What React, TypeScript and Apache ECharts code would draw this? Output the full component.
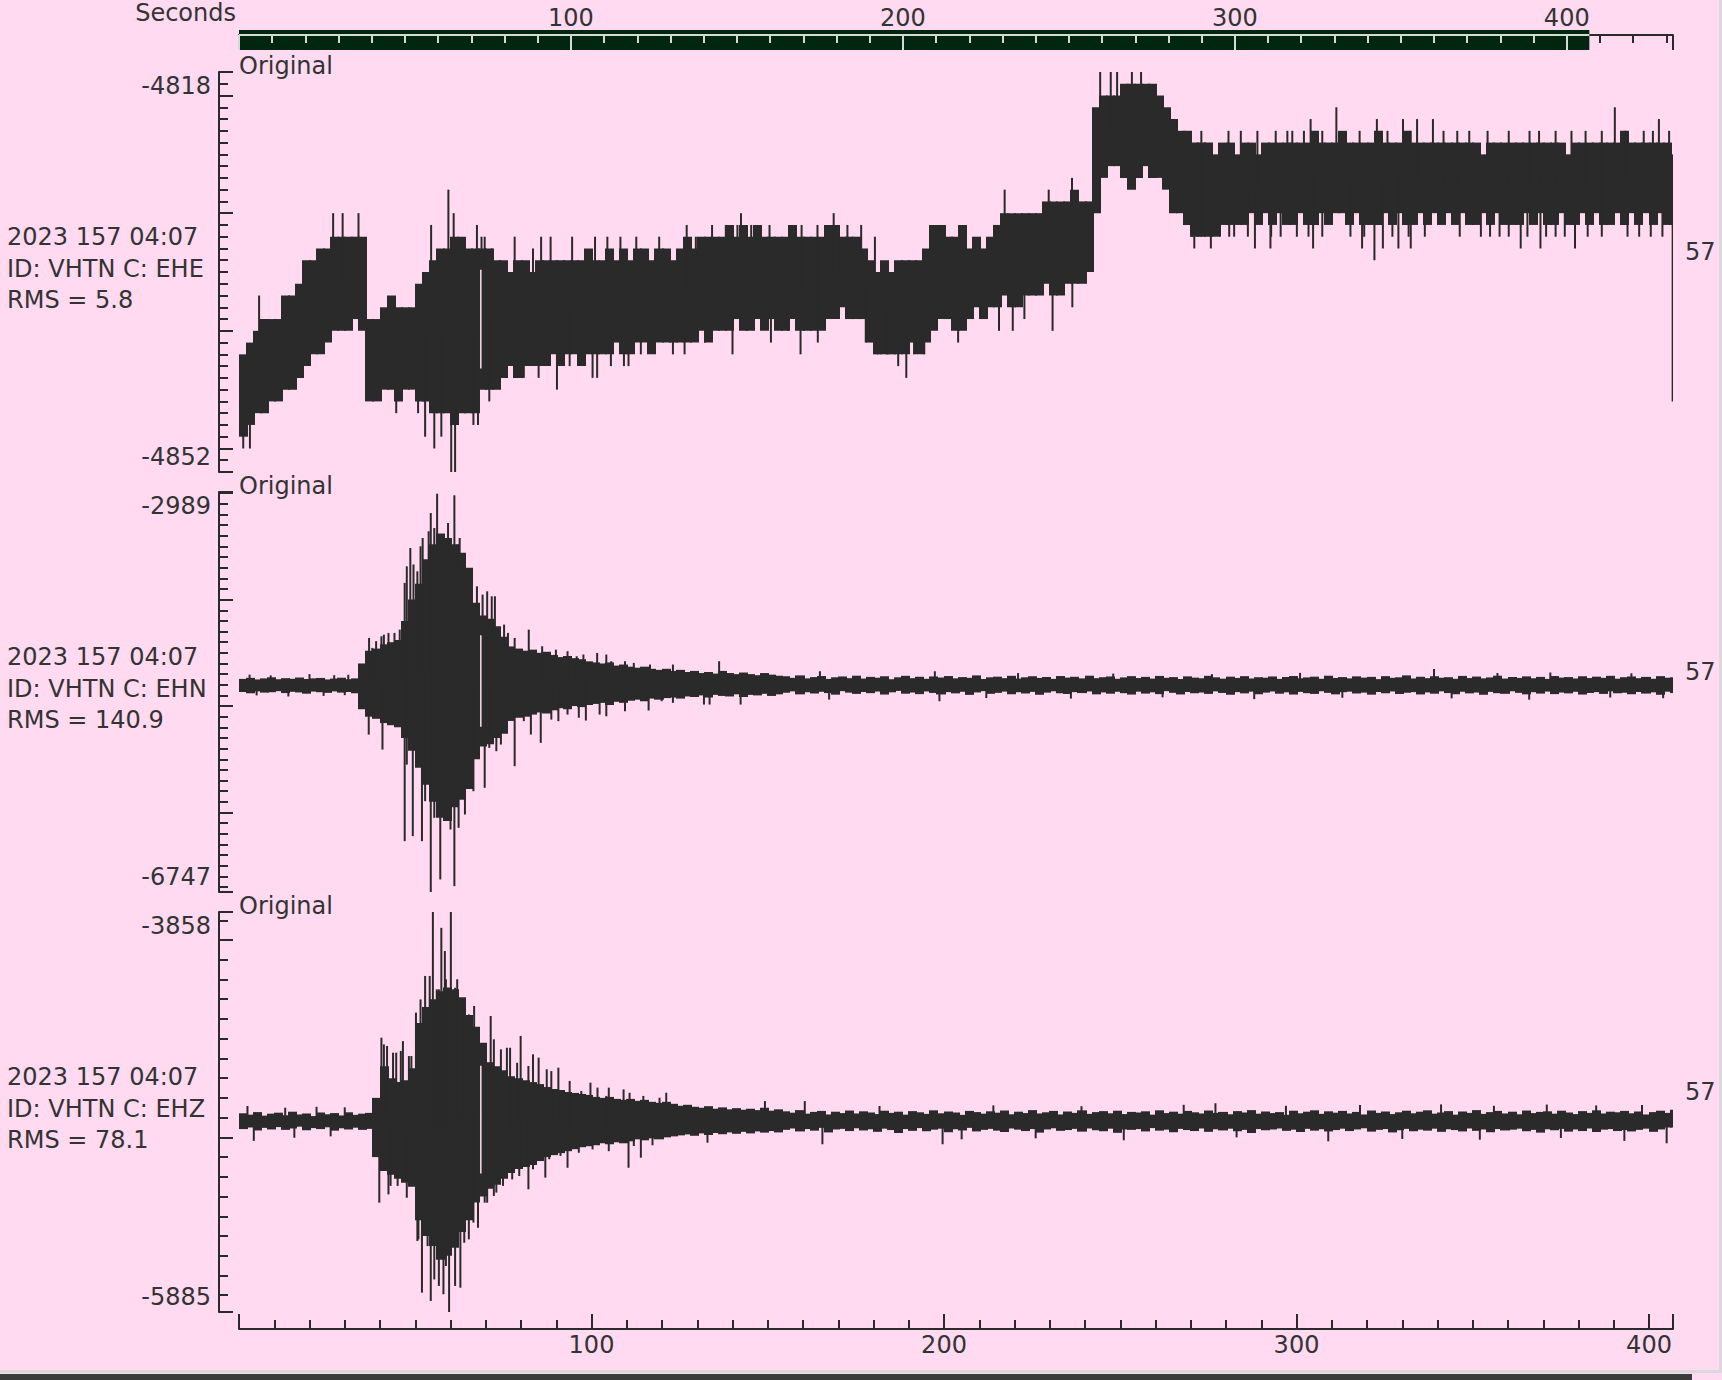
import React, { useEffect, useRef } from "react";
import * as echarts from "echarts";

// ---------------- style constants ----------------
const FONT = "DejaVu Sans";
const INK = "#2a2a2a";
const TEXT = "#333333";
const BG = "#FFDAF0";
const BAR = "#01260F";
const LIGHT = "#d4dbd4";

// ---------------- data ----------------
const BIN_SECONDS = 2; // each envelope value covers a 2 s window
const TRACE_END = 406.8; // seconds of data shown
const OVERVIEW_END = 432; // extent of the "Seconds" overview scale

const xTickLabels = [100, 200, 300, 400];
const startTime = "2023 157 04:07";
const startSecond = "57";
const stationId = "VHTN";
const channels = ["EHE", "EHN", "EHZ"];
const rmsValues = ["5.8", "140.9", "78.1"];
const yMins = [-4852, -6747, -5885];
const yMaxs = [-4818, -2989, -3858];
const yMajorSteps = [10, 1000, 1000];
const dataGaps = [68.6]; // short dropout visible in all three traces

// EHE envelope (max / min per 2 s window)
const eheHi = [
  -4842, -4841, -4840, -4839, -4839, -4839, -4837, -4837, -4836, -4834,
  -4834, -4833, -4833, -4832, -4832, -4832, -4832, -4832, -4839, -4839,
  -4838, -4837, -4838, -4838, -4838, -4836, -4835, -4834, -4833, -4833,
  -4832, -4832, -4833, -4833, -4833, -4833, -4834, -4834, -4835, -4834,
  -4834, -4835, -4834, -4834, -4834, -4834, -4834, -4834, -4834, -4833,
  -4834, -4834, -4833, -4834, -4833, -4834, -4833, -4833, -4834, -4833,
  -4833, -4834, -4833, -4832, -4833, -4832, -4832, -4832, -4832, -4831,
  -4832, -4831, -4832, -4831, -4832, -4832, -4832, -4832, -4831, -4832,
  -4832, -4832, -4832, -4831, -4831, -4832, -4832, -4832, -4833, -4834,
  -4835, -4834, -4835, -4834, -4834, -4834, -4834, -4833, -4831, -4831,
  -4832, -4832, -4831, -4833, -4832, -4833, -4832, -4831, -4830, -4830,
  -4830, -4830, -4830, -4830, -4829, -4829, -4829, -4829, -4828, -4829,
  -4829, -4821, -4820, -4820, -4820, -4819, -4819, -4819, -4819, -4819,
  -4820, -4821, -4822, -4823, -4823, -4824, -4824, -4824, -4825, -4824,
  -4824, -4825, -4824, -4824, -4825, -4824, -4824, -4824, -4824, -4824,
  -4824, -4824, -4823, -4824, -4824, -4824, -4823, -4824, -4824, -4824,
  -4824, -4823, -4824, -4824, -4824, -4823, -4824, -4824, -4824, -4824,
  -4824, -4824, -4824, -4824, -4824, -4824, -4825, -4824, -4824, -4824,
  -4824, -4824, -4824, -4824, -4824, -4824, -4824, -4824, -4825, -4824,
  -4824, -4824, -4824, -4824, -4824, -4824, -4823, -4824, -4824, -4824,
  -4824, -4824, -4824, -4825,
];
const eheLo = [
  -4849, -4848, -4847, -4847, -4846, -4846, -4845, -4845, -4844, -4843,
  -4842, -4842, -4841, -4840, -4840, -4840, -4839, -4840, -4846, -4846,
  -4845, -4845, -4846, -4845, -4845, -4846, -4846, -4847, -4847, -4847,
  -4848, -4847, -4847, -4847, -4845, -4845, -4845, -4844, -4843, -4844,
  -4843, -4843, -4843, -4843, -4842, -4843, -4842, -4842, -4843, -4842,
  -4842, -4842, -4842, -4841, -4842, -4842, -4841, -4841, -4842, -4841,
  -4841, -4841, -4841, -4841, -4841, -4840, -4841, -4840, -4840, -4840,
  -4839, -4840, -4840, -4839, -4840, -4839, -4840, -4840, -4839, -4840,
  -4840, -4840, -4840, -4839, -4839, -4838, -4839, -4839, -4839, -4841,
  -4842, -4842, -4842, -4842, -4842, -4841, -4842, -4841, -4840, -4839,
  -4839, -4840, -4840, -4839, -4838, -4839, -4838, -4838, -4837, -4838,
  -4838, -4837, -4837, -4837, -4836, -4837, -4837, -4836, -4836, -4836,
  -4835, -4830, -4827, -4826, -4826, -4827, -4828, -4827, -4826, -4827,
  -4827, -4828, -4830, -4830, -4831, -4832, -4832, -4832, -4832, -4831,
  -4831, -4831, -4831, -4830, -4831, -4830, -4831, -4830, -4831, -4831,
  -4830, -4831, -4831, -4830, -4831, -4830, -4830, -4831, -4830, -4831,
  -4831, -4831, -4830, -4831, -4830, -4831, -4831, -4830, -4831, -4830,
  -4831, -4830, -4831, -4830, -4831, -4831, -4830, -4831, -4830, -4831,
  -4831, -4831, -4830, -4831, -4830, -4831, -4831, -4830, -4831, -4831,
  -4830, -4831, -4830, -4831, -4831, -4830, -4831, -4830, -4831, -4830,
  -4831, -4830, -4831, -4831,
];
// EHE isolated peaks: [seconds, counts]
const eheSpikes = [
  [5.7, -4837], [26.7, -4830], [29.4, -4830], [33.9, -4830], [54.5, -4831], [59.4, -4828],
  [60.9, -4830], [67.5, -4831], [68.8, -4832], [69.7, -4832], [71.7, -4833], [78.2, -4832],
  [83.4, -4833], [85.7, -4832], [88.4, -4832], [94.5, -4832], [101, -4832], [104.5, -4832],
  [108.2, -4832], [112.7, -4832], [119.2, -4832], [127, -4831], [129.6, -4832], [134.2, -4831],
  [138.1, -4831], [141.4, -4831], [142.4, -4830], [145.3, -4831], [150.5, -4831], [159.6, -4831],
  [164.1, -4831], [168.7, -4830], [170, -4831], [172.6, -4831], [176.5, -4831], [180.4, -4832],
  [199, -4831], [217.2, -4828], [229.7, -4828], [236.3, -4827], [244.3, -4818], [247.3, -4818],
  [249.1, -4818], [253.3, -4818], [255.9, -4818], [266, -4822], [273, -4823], [280.7, -4823],
  [284.2, -4823], [288.9, -4823], [294.1, -4823], [297.4, -4823], [298.8, -4823], [302.1, -4823],
  [304, -4822], [307.3, -4823], [311.3, -4821], [317.9, -4823], [322.8, -4822], [325.8, -4823],
  [330.2, -4822], [332.4, -4823], [334.2, -4822], [338.7, -4822], [341.7, -4823], [345.6, -4823],
  [349, -4823], [354.2, -4823], [360.2, -4823], [366.1, -4823], [368.8, -4823], [373.5, -4823],
  [378, -4823], [382, -4823], [386.6, -4823], [390.3, -4821], [393.2, -4823], [398.5, -4823],
  [401.1, -4823], [402.8, -4822], [405.7, -4823],
  [1.2, -4850], [3.1, -4850], [44.6, -4847], [50.8, -4847], [52.8, -4849], [55.4, -4850],
  [57.4, -4849], [60.2, -4852], [61.3, -4852], [66.5, -4848], [67.8, -4848], [71, -4846],
  [80.8, -4844], [85, -4844], [90.2, -4845], [93.8, -4843], [96.4, -4842], [100.3, -4844],
  [101.6, -4844], [105.5, -4843], [109.2, -4843], [110.5, -4843], [114, -4842], [123.1, -4842],
  [126.4, -4842], [132.2, -4841], [140, -4842], [144, -4840], [150.9, -4841], [155.7, -4840],
  [159.3, -4842], [164.2, -4841], [177.8, -4841], [181.1, -4842], [183.7, -4842], [187, -4843],
  [189.3, -4844], [191.5, -4842], [194.4, -4842],
  [204, -4841], [215.6, -4840], [219.5, -4840], [222.8, -4839], [230.8, -4840], [236.4, -4838],
  [270.4, -4832], [271, -4833], [273, -4832], [275.7, -4833], [278.3, -4832], [280.9, -4832],
  [282.3, -4832], [286.2, -4832], [288.2, -4833], [292.6, -4833], [292.8, -4832], [295.5, -4832],
  [300.1, -4832], [303.4, -4832], [304.7, -4833], [307.3, -4832], [315.3, -4832], [318.6, -4833],
  [319.2, -4832], [322.1, -4834], [324.5, -4833], [327.2, -4832], [328.9, -4833], [331.8, -4832],
  [332.4, -4833], [336.4, -4832], [346.3, -4832], [352.3, -4832], [354.9, -4832], [357.6, -4832],
  [360.2, -4832], [363.6, -4833], [365.5, -4832], [369.2, -4833], [370.8, -4832], [373.5, -4832],
  [376.1, -4832], [379, -4833], [382.6, -4832], [386.6, -4832], [393.9, -4832], [397.2, -4832],
  [400.5, -4832], [403.8, -4832], [406.7, -4846],
];

// EHN envelope
const ehnHi = [
  -4745, -4735, -4750, -4740, -4730, -4748, -4738, -4744, -4732, -4746,
  -4740, -4736, -4750, -4742, -4734, -4748, -4740, -4600, -4480, -4460,
  -4420, -4400, -4380, -4200, -4000, -3850, -3620, -3480, -3380, -3420,
  -3480, -3560, -3700, -4030, -4150, -4180, -4250, -4350, -4440, -4460,
  -4480, -4470, -4500, -4490, -4520, -4540, -4530, -4550, -4560, -4580,
  -4590, -4600, -4590, -4620, -4610, -4630, -4640, -4630, -4650, -4660,
  -4650, -4670, -4660, -4680, -4670, -4690, -4680, -4695, -4670, -4690,
  -4700, -4685, -4700, -4710, -4690, -4705, -4715, -4720, -4735, -4712,
  -4740, -4728, -4718, -4745, -4730, -4722, -4738, -4715, -4742, -4726,
  -4734, -4720, -4748, -4730, -4716, -4738, -4725, -4744, -4722, -4732,
  -4718, -4740, -4728, -4735, -4712, -4746, -4730, -4724, -4738, -4716,
  -4742, -4730, -4720, -4736, -4727, -4745, -4718, -4733, -4725, -4740,
  -4715, -4738, -4729, -4722, -4744, -4731, -4719, -4737, -4726, -4742,
  -4717, -4735, -4728, -4746, -4721, -4733, -4739, -4716, -4730, -4743,
  -4724, -4736, -4719, -4741, -4729, -4734, -4722, -4745, -4727, -4718,
  -4739, -4731, -4724, -4744, -4715, -4736, -4728, -4740, -4721, -4733,
  -4726, -4747, -4719, -4735, -4730, -4712, -4741, -4725, -4738, -4720,
  -4734, -4729, -4744, -4717, -4737, -4723, -4740, -4731, -4715, -4742,
  -4727, -4736, -4721, -4739, -4726, -4745, -4718, -4733, -4728, -4741,
  -4720, -4737, -4724, -4735, -4716, -4743, -4729, -4722, -4738, -4726,
  -4744, -4719, -4734, -4730,
];
const ehnLo = [
  -4868, -4880, -4862, -4874, -4870, -4860, -4878, -4866, -4872, -4884,
  -4864, -4870, -4876, -4862, -4874, -4868, -4880, -5030, -5100, -5120,
  -5160, -5180, -5200, -5300, -5420, -5580, -5740, -5900, -6050, -6080,
  -5950, -5880, -5780, -5500, -5380, -5360, -5300, -5260, -5140, -5110,
  -5100, -5080, -5060, -5070, -5040, -5020, -5030, -5000, -5010, -4990,
  -4980, -4970, -4990, -4960, -4970, -4950, -4940, -4955, -4930, -4940,
  -4925, -4920, -4930, -4910, -4915, -4900, -4920, -4895, -4905, -4910,
  -4890, -4915, -4895, -4900, -4885, -4905, -4890, -4875, -4862, -4890,
  -4870, -4882, -4866, -4878, -4893, -4860, -4874, -4886, -4868, -4879,
  -4864, -4892, -4871, -4858, -4884, -4873, -4888, -4863, -4877, -4891,
  -4869, -4881, -4866, -4895, -4872, -4860, -4885, -4876, -4864, -4889,
  -4870, -4882, -4867, -4894, -4874, -4861, -4880, -4887, -4869, -4878,
  -4863, -4890, -4872, -4884, -4866, -4879, -4892, -4865, -4883, -4871,
  -4888, -4860, -4876, -4891, -4868, -4880, -4873, -4886, -4862, -4877,
  -4894, -4869, -4881, -4865, -4889, -4874, -4863, -4884, -4871, -4892,
  -4867, -4879, -4886, -4861, -4876, -4890, -4870, -4865, -4882, -4874,
  -4893, -4868, -4880, -4863, -4887, -4875, -4869, -4891, -4872, -4884,
  -4862, -4878, -4889, -4866, -4881, -4873, -4894, -4867, -4879, -4885,
  -4861, -4876, -4890, -4870, -4883, -4864, -4888, -4873, -4881, -4866,
  -4892, -4877, -4869, -4886, -4862, -4880, -4875, -4889, -4868, -4883,
  -4871, -4894, -4865, -4878,
];
const ehnSpikes = [
  [3, -4705], [9, -4712], [20, -4700], [27, -4710], [31, -4706], [36.9, -4360], [37.8, -4454],
  [38.9, -4390], [40.4, -4344], [41.1, -4329], [42.4, -4313], [44.1, -4313], [45.6, -4282],
  [47, -3843], [47.6, -3687], [48.6, -3515], [49.5, -3670], [50.6, -3734], [51.5, -3499],
  [52.1, -3421], [53.8, -3358], [54.4, -3186], [55.4, -3327], [56.2, -3005], [57.4, -3437],
  [58, -3515], [59.3, -3280], [61.1, -3020], [61.9, -3484], [62.6, -3421], [64.1, -3718],
  [65.2, -3718], [67.5, -3875], [69.1, -3953], [70.4, -3922], [71.7, -3969], [72.6, -3969],
  [75.2, -4235], [76.3, -4313], [78.2, -4360], [82.2, -4282], [86, -4438], [89.9, -4470],
  [93.2, -4485], [95.8, -4532], [97.7, -4516], [101.6, -4501], [104.2, -4516], [105.6, -4579],
  [109.5, -4579], [112, -4595], [116.6, -4610], [123.1, -4610], [136.2, -4579], [164.8, -4673],
  [197.4, -4673], [221, -4690], [248, -4695], [276, -4700], [301, -4688], [339, -4652],
  [357, -4690], [372, -4685], [395, -4692],
  [5, -4900], [14, -4910], [24, -4905], [30, -4898], [36.8, -5268], [40.7, -5409], [47, -6269],
  [47.6, -5550], [49.3, -6222], [51.9, -6269], [52.8, -5894], [54.4, -6747], [55.4, -6050],
  [57.1, -6629], [58.7, -6050], [60, -6160], [61.1, -6692], [62.3, -6144], [63.2, -5830],
  [64.1, -6019], [65.2, -5580], [66.5, -5800], [69.7, -5768], [71, -5393], [73, -5424],
  [74.3, -5362], [75.6, -5205], [78.2, -5565], [80.8, -5142], [82.8, -5268], [85.6, -5346],
  [88.6, -5127], [90.6, -5142], [93.2, -5080], [96.4, -5110], [98.4, -5136], [102.3, -5080],
  [104.2, -5096], [109.5, -5049], [116.2, -5042], [119.9, -4955], [123.1, -4970], [131.9, -4986],
  [133.5, -4986], [142.3, -4986], [167.4, -4939], [198.7, -4955], [212, -4925], [236, -4930],
  [262, -4918], [288, -4935], [313, -4922], [344, -4928], [366, -4940], [389, -4920], [404, -4926],
];

// EHZ envelope
const ehzHi = [
  -4878, -4885, -4872, -4890, -4880, -4875, -4888, -4870, -4884, -4879,
  -4892, -4874, -4883, -4877, -4889, -4873, -4886, -4880, -4876, -4800,
  -4640, -4700, -4720, -4710, -4650, -4420, -4340, -4300, -4260, -4240,
  -4250, -4290, -4380, -4440, -4520, -4620, -4640, -4660, -4690, -4700,
  -4710, -4720, -4730, -4745, -4755, -4760, -4770, -4775, -4780, -4785,
  -4795, -4800, -4795, -4805, -4810, -4805, -4815, -4810, -4820, -4825,
  -4820, -4830, -4840, -4835, -4845, -4850, -4842, -4855, -4848, -4858,
  -4852, -4860, -4855, -4862, -4850, -4865, -4858, -4868, -4875, -4862,
  -4880, -4871, -4866, -4884, -4870, -4877, -4864, -4879, -4868, -4874,
  -4882, -4865, -4876, -4870, -4885, -4867, -4873, -4881, -4863, -4878,
  -4869, -4874, -4886, -4866, -4872, -4880, -4868, -4875, -4864, -4883,
  -4870, -4877, -4862, -4879, -4873, -4866, -4884, -4869, -4876, -4863,
  -4881, -4872, -4867, -4878, -4865, -4882, -4871, -4874, -4868, -4885,
  -4863, -4877, -4870, -4880, -4866, -4873, -4879, -4864, -4876, -4871,
  -4883, -4867, -4874, -4862, -4880, -4869, -4877, -4872, -4886, -4865,
  -4878, -4870, -4863, -4881, -4868, -4875, -4866, -4879, -4871, -4884,
  -4864, -4876, -4869, -4882, -4873, -4865, -4878, -4870, -4863, -4880,
  -4874, -4867, -4885, -4869, -4876, -4862, -4881, -4872, -4866, -4879,
  -4870, -4883, -4864, -4877, -4871, -4868, -4880, -4865, -4874, -4882,
  -4867, -4876, -4863, -4879, -4870, -4873, -4866, -4878, -4869, -4884,
  -4872, -4865, -4876, -4860,
];
const ehzLo = [
  -4958, -4950, -4965, -4952, -4960, -4948, -4962, -4955, -4946, -4964,
  -4953, -4958, -4949, -4966, -4954, -4960, -4951, -4962, -4957, -5100,
  -5170, -5190, -5210, -5230, -5250, -5420, -5500, -5550, -5620, -5600,
  -5560, -5480, -5420, -5330, -5300, -5260, -5240, -5210, -5180, -5160,
  -5150, -5140, -5120, -5100, -5090, -5080, -5070, -5060, -5050, -5045,
  -5040, -5030, -5035, -5025, -5030, -5020, -5010, -5015, -5005, -5010,
  -5000, -4995, -4990, -4985, -4992, -4980, -4988, -4978, -4984, -4975,
  -4982, -4972, -4980, -4970, -4976, -4968, -4975, -4962, -4955, -4970,
  -4958, -4966, -4952, -4975, -4960, -4957, -4968, -4954, -4965, -4959,
  -4972, -4956, -4963, -4978, -4958, -4967, -4953, -4969, -4961, -4956,
  -4974, -4959, -4965, -4952, -4970, -4962, -4957, -4966, -4973, -4955,
  -4961, -4968, -4958, -4976, -4960, -4954, -4967, -4963, -4957, -4971,
  -4955, -4964, -4969, -4956, -4977, -4960, -4962, -4958, -4970, -4953,
  -4966, -4961, -4974, -4957, -4963, -4968, -4955, -4972, -4959, -4965,
  -4956, -4969, -4962, -4978, -4958, -4964, -4960, -4955, -4967, -4961,
  -4973, -4957, -4966, -4959, -4970, -4963, -4956, -4968, -4960, -4954,
  -4971, -4962, -4958, -4975, -4964, -4957, -4969, -4961, -4966, -4956,
  -4972, -4959, -4963, -4970, -4955, -4967, -4960, -4974, -4958, -4965,
  -4961, -4956, -4969, -4962, -4976, -4959, -4964, -4957, -4971, -4960,
  -4968, -4955, -4973, -4961, -4958, -4968, -4963, -4970, -4962, -4956,
  -4972, -4960, -4950, -4950,
];
const ehzSpikes = [
  [2.4, -4841], [13.1, -4850], [22, -4845], [30, -4848], [40.4, -4495], [41.1, -4529],
  [42, -4537], [43.7, -4571], [44.6, -4571], [45.9, -4562], [46.5, -4512], [48.2, -4588],
  [48.9, -4588], [50.2, -4368], [51.5, -4301], [52.8, -4182], [54.1, -4182], [55, -3858],
  [56.1, -4250], [56.7, -4250], [57.4, -3938], [58.4, -4056], [58.7, -4199], [60.1, -3858],
  [61.3, -4242], [61.9, -4199], [63.2, -4318], [64.1, -4309], [65.2, -4377], [66.7, -4334],
  [69.7, -4605], [71.4, -4385], [72.3, -4503], [74.3, -4554], [76, -4546], [76.9, -4546],
  [78.9, -4622], [79.9, -4486], [82.1, -4638], [83.4, -4579], [85, -4596], [87.3, -4655],
  [88.6, -4664], [90.6, -4647], [93.8, -4714], [97.1, -4765], [99.7, -4723], [101.7, -4748],
  [104.2, -4790], [104.9, -4748], [109.1, -4757], [110.8, -4774], [114.7, -4790], [119.3, -4799],
  [121.2, -4774], [149.2, -4816], [160.5, -4816], [181.7, -4841], [214, -4838], [239, -4842],
  [268, -4835], [277, -4827], [297, -4840], [318, -4836], [341, -4833], [356, -4840],
  [371, -4834], [385, -4838], [398, -4836],
  [4.2, -5018], [15.7, -5002], [26, -4995], [39.8, -5331], [42.4, -5289], [43, -5246],
  [45, -5246], [47.6, -5306], [48.9, -5230], [50.6, -5525], [50.9, -5517], [51.9, -5787],
  [53.5, -5551], [54.4, -5829], [55.4, -5720], [56.7, -5753], [58, -5795], [58.7, -5652],
  [59.6, -5885], [61.3, -5753], [62.8, -5762], [63.9, -5534], [65.2, -5517], [66.5, -5432],
  [67.8, -5458], [69.7, -5331], [70.4, -5331], [72.3, -5297], [73, -5280], [74.9, -5246],
  [77.5, -5213], [79.5, -5196], [82.1, -5263], [83.4, -5162], [86.9, -5204], [88, -5111],
  [91.2, -5094], [93.2, -5154], [96.4, -5078], [100.3, -5061], [104.9, -5070], [110.5, -5154],
  [112, -5044], [114, -5103], [117.3, -5040], [132.9, -5027], [165.5, -5035], [199.6, -5035],
  [205, -5010], [226, -5005], [251, -5015], [283, -5000], [309, -5020], [330, -5008],
  [352, -5012], [375, -5003], [393, -5018], [405, -5030],
];

const traceHi = [eheHi, ehnHi, ehzHi];
const traceLo = [eheLo, ehnLo, ehzLo];
const traceSpikes = [eheSpikes, ehnSpikes, ehzSpikes];

// ---------------- layout ----------------
const PLOT_LEFT = 239;
const PLOT_WIDTH = 1434;
const PANEL_TOP0 = 72;
const PANEL_STEP = 420;
const PANEL_H = 400;

const range = (a: number, b: number, s: number) => {
  const out: number[] = [];
  for (let v = a; v <= b + 1e-9; v += s) out.push(v);
  return out;
};

function yTicks(min: number, max: number, step: number) {
  const minor = step / 10;
  const majors: number[] = [];
  const minors: number[] = [];
  for (let v = Math.ceil(min / minor) * minor; v <= max; v += minor) {
    if (v === min || v === max) continue;
    if (Math.round(v / step) * step === v) majors.push(v);
    else minors.push(v);
  }
  return { majors, minors };
}

function bandRender(params: any, api: any) {
  const a = api.coord([api.value(0), api.value(3)]);
  const b = api.coord([api.value(1), api.value(2)]);
  const x0 = Math.floor(a[0]);
  return {
    type: "rect",
    shape: { x: x0, y: a[1], width: Math.ceil(b[0]) - x0 + 1, height: Math.max(b[1] - a[1], 2) },
    style: { fill: INK },
  };
}

function spikeRender(params: any, api: any) {
  const t = api.value(0);
  const a = api.coord([t, api.value(1)]);
  const b = api.coord([t, api.value(2)]);
  return {
    type: "line",
    shape: { x1: a[0], y1: a[1], x2: b[0], y2: b[1] },
    style: { stroke: INK, lineWidth: 2 },
  };
}

function gapRender(params: any, api: any) {
  const t = api.value(0);
  const hi = api.value(1);
  const lo = api.value(2);
  const a = api.coord([t, hi + (lo - hi) * 0.15]);
  const b = api.coord([t, lo - (lo - hi) * 0.15]);
  return {
    type: "line",
    shape: { x1: a[0], y1: a[1], x2: b[0], y2: b[1] },
    style: { stroke: BG, lineWidth: 1.5 },
  };
}

function overviewRender(params: any, api: any) {
  const a = api.coord([api.value(0), 1]);
  const b = api.coord([api.value(1), 0]);
  return {
    type: "group",
    children: [
      { type: "rect", shape: { x: a[0], y: a[1] - 5, width: b[0] - a[0], height: b[1] - a[1] + 5 }, style: { fill: BAR } },
      { type: "rect", shape: { x: a[0], y: a[1] - 1, width: b[0] - a[0], height: 2 }, style: { fill: LIGHT } },
    ],
  };
}

function buildOption() {
  const textStyle = { fontFamily: FONT, fontSize: 24, color: TEXT };
  const grids: any[] = channels.map((_, i) => ({
    left: PLOT_LEFT,
    top: PANEL_TOP0 + PANEL_STEP * i,
    width: PLOT_WIDTH,
    height: PANEL_H,
  }));
  grids.push({ left: PLOT_LEFT, top: 35, width: PLOT_WIDTH, height: 15 });

  const lineStyle = { color: INK, width: 2 };
  const baseX = { type: "value", min: 0, max: TRACE_END, splitLine: { show: false } };
  const minorSec = range(10, 400, 10).filter((v) => v % 100 !== 0);

  const xAxis: any[] = [
    { ...baseX, gridIndex: 0, show: false },
    { ...baseX, gridIndex: 1, show: false },
    {
      ...baseX,
      gridIndex: 2,
      position: "bottom",
      offset: 17,
      axisLine: { show: true, onZero: false, lineStyle },
      axisTick: { show: true, inside: true, length: 15, lineStyle, customValues: [0, ...xTickLabels, TRACE_END] },
      axisLabel: { show: true, customValues: xTickLabels, margin: 4, ...textStyle },
    },
    {
      ...baseX,
      gridIndex: 2,
      position: "bottom",
      offset: 17,
      axisLine: { show: false },
      axisTick: { show: true, inside: true, length: 9, lineStyle, customValues: minorSec },
      axisLabel: { show: false },
    },
    {
      type: "value",
      gridIndex: 3,
      min: 0,
      max: OVERVIEW_END,
      position: "top",
      splitLine: { show: false },
      axisLine: { show: true, onZero: false, lineStyle },
      axisTick: { show: true, inside: true, length: 8, lineStyle, customValues: [410, 420, 430] },
      axisLabel: { show: true, customValues: xTickLabels, margin: 5, ...textStyle },
    },
    {
      type: "value",
      gridIndex: 3,
      min: 0,
      max: OVERVIEW_END,
      position: "top",
      splitLine: { show: false },
      axisLine: { show: false, onZero: false },
      axisTick: { show: true, inside: true, length: 15, lineStyle, customValues: [OVERVIEW_END] },
      axisLabel: { show: false },
    },
    {
      type: "value",
      gridIndex: 3,
      min: 0,
      max: OVERVIEW_END,
      position: "top",
      z: 10,
      splitLine: { show: false },
      axisLine: { show: false, onZero: false },
      axisTick: { show: true, inside: true, length: 8, lineStyle: { color: LIGHT, width: 2 }, customValues: minorSec },
      axisLabel: { show: false },
    },
    {
      type: "value",
      gridIndex: 3,
      min: 0,
      max: OVERVIEW_END,
      position: "top",
      z: 10,
      splitLine: { show: false },
      axisLine: { show: false, onZero: false },
      axisTick: { show: true, inside: true, length: 15, lineStyle: { color: LIGHT, width: 2 }, customValues: [0, ...xTickLabels] },
      axisLabel: { show: false },
    },
  ];

  const yAxis: any[] = [];
  channels.forEach((_, i) => {
    const min = yMins[i];
    const max = yMaxs[i];
    const { majors, minors } = yTicks(min, max, yMajorSteps[i]);
    yAxis.push({
      type: "value",
      gridIndex: i,
      min,
      max,
      position: "left",
      offset: 20,
      splitLine: { show: false },
      axisLine: { show: true, onZero: false, lineStyle },
      axisTick: { show: true, inside: true, length: 14, lineStyle, customValues: [min, ...majors, max] },
      axisLabel: {
        show: true,
        customValues: [min, max],
        margin: 8,
        ...textStyle,
        formatter: (v: number) => (v === max ? `{t|${v}}` : `{b|${v}}`),
        rich: {
          t: { ...textStyle, padding: [27, 0, 0, 0] },
          b: { ...textStyle, padding: [0, 0, 30, 0] },
        },
      },
    });
    yAxis.push({
      type: "value",
      gridIndex: i,
      min,
      max,
      position: "left",
      offset: 20,
      splitLine: { show: false },
      axisLine: { show: false, onZero: false },
      axisTick: { show: true, inside: true, length: 9, lineStyle, customValues: minors },
      axisLabel: { show: false },
    });
  });
  yAxis.push({ type: "value", gridIndex: 3, min: 0, max: 1, show: false });

  const series: any[] = [];
  channels.forEach((_, i) => {
    const hi = traceHi[i];
    const lo = traceLo[i];
    const binOf = (t: number) => Math.min(Math.floor(t / BIN_SECONDS), hi.length - 1);
    const bands = hi.map((h, k) => [k * BIN_SECONDS, Math.min((k + 1) * BIN_SECONDS, TRACE_END), lo[k], h]);
    const spikes = traceSpikes[i].map(([t, v]) => {
      const k = binOf(t);
      return [t, v, (hi[k] + lo[k]) / 2];
    });
    const gaps = dataGaps.map((t) => [t, hi[binOf(t)], lo[binOf(t)]]);
    const common = { type: "custom", xAxisIndex: i, yAxisIndex: i * 2, clip: true, silent: true };
    series.push({ ...common, name: channels[i] + " envelope", encode: { x: [0, 1], y: [2, 3] }, renderItem: bandRender, data: bands });
    series.push({ ...common, name: channels[i] + " peaks", encode: { x: 0, y: [1, 2] }, renderItem: spikeRender, data: spikes });
    series.push({ ...common, name: channels[i] + " gap", z: 3, encode: { x: 0, y: [1, 2] }, renderItem: gapRender, data: gaps });
  });
  series.push({
    type: "custom",
    name: "overview",
    xAxisIndex: 4,
    yAxisIndex: 6,
    silent: true,
    encode: { x: [0, 1] },
    renderItem: overviewRender,
    data: [[0, TRACE_END]],
  });

  const txt = (text: string, x: number, y: number, align = "left") => ({
    type: "text",
    x,
    y,
    silent: true,
    style: {
      text,
      fill: TEXT,
      fontSize: 24,
      fontFamily: FONT,
      textAlign: align,
      align,
      textVerticalAlign: "middle",
      verticalAlign: "middle",
    },
  });

  const graphic: any[] = [
    txt("Seconds", 236, 13, "right"),
    { type: "rect", silent: true, shape: { x: 0, y: 1370, width: 1722, height: 3 }, style: { fill: "#d9d9d9" } },
    { type: "rect", silent: true, shape: { x: 0, y: 1374, width: 1692, height: 6 }, style: { fill: "#3b3b3b" } },
    { type: "rect", silent: true, shape: { x: 1719, y: 0, width: 3, height: 1373 }, style: { fill: "#d9d9d9" } },
  ];
  channels.forEach((ch, i) => {
    const top = PANEL_TOP0 + PANEL_STEP * i;
    graphic.push(txt("Original", 239, top - 6));
    graphic.push(txt(startTime, 7, top + 165));
    graphic.push(txt(`ID: ${stationId} C: ${ch}`, 7, top + 197));
    graphic.push(txt(`RMS = ${rmsValues[i]}`, 7, top + 227.5));
    graphic.push(txt(startSecond, 1685, top + 180));
  });

  return {
    animation: false,
    backgroundColor: BG,
    grid: grids,
    xAxis,
    yAxis,
    series,
    graphic,
  };
}

export default function App() {
  const ref = useRef<HTMLDivElement>(null);
  useEffect(() => {
    const chart = echarts.init(ref.current as HTMLDivElement, null, { renderer: "svg" });
    chart.setOption(buildOption() as any);
    return () => chart.dispose();
  }, []);
  return (
    <div
      ref={ref}
      style={{ position: "absolute", left: 0, top: 0, width: 1722, height: 1380, background: BG }}
    />
  );
}
